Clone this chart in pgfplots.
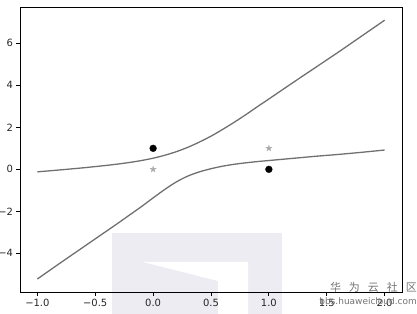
\documentclass[border=0pt]{standalone}
\usepackage{pgfplots}
\pgfplotsset{compat=1.18}
\usepackage{fontspec}
\setmainfont{DejaVu Sans}
\newfontfamily\cjk{Noto Sans CJK SC}
\definecolor{wm}{RGB}{236,236,242}
\definecolor{curve}{RGB}{112,112,112}
\definecolor{stargray}{RGB}{172,172,172}
\pgfdeclareplotmark{fstar}{%
  \pgfpathmoveto{\pgfpointpolar{90}{\pgfplotmarksize}}%
  \pgfpathlineto{\pgfpointpolar{126}{0.4\pgfplotmarksize}}%
  \pgfpathlineto{\pgfpointpolar{162}{\pgfplotmarksize}}%
  \pgfpathlineto{\pgfpointpolar{198}{0.4\pgfplotmarksize}}%
  \pgfpathlineto{\pgfpointpolar{234}{\pgfplotmarksize}}%
  \pgfpathlineto{\pgfpointpolar{270}{0.4\pgfplotmarksize}}%
  \pgfpathlineto{\pgfpointpolar{306}{\pgfplotmarksize}}%
  \pgfpathlineto{\pgfpointpolar{342}{0.4\pgfplotmarksize}}%
  \pgfpathlineto{\pgfpointpolar{18}{\pgfplotmarksize}}%
  \pgfpathlineto{\pgfpointpolar{54}{0.4\pgfplotmarksize}}%
  \pgfpathclose
  \pgfusepathqfillstroke}
\begin{document}
\begin{tikzpicture}[x=1bp,y=1bp]
\useasboundingbox (0,0) rectangle (417,314);
\fill[wm] (112,0) rectangle (282,81);
\fill[white] (143,52) -- (248,52) -- (248,0) -- (218,0) -- (218,33) -- cycle;
\begin{axis}[
  at={(20bp,22bp)}, anchor=south west,
  width=382bp, height=285bp, scale only axis,
  xmin=-1.15, xmax=2.15, ymin=-5.84, ymax=7.73,
  xtick={-1,-0.5,0,0.5,1,1.5,2},
  xticklabels={−1.0,−0.5,0.0,0.5,1.0,1.5,2.0},
  ytick={-4,-2,0,2,4,6},
  yticklabels={−4,−2,0,2,4,6},
  tick align=outside, tick pos=left,
  major tick length=3.5bp,
  axis line style={line width=0.8bp, black},
  every tick/.style={black, line width=0.8bp},
  tick label style={font=\fontsize{10}{12}\selectfont, text=black!85},
  /pgf/number format/assume math mode=true,
]
\addplot[curve, line width=1.3bp, smooth, no marks] coordinates {
 (-1.0,-0.12) (-0.8,-0.025) (-0.6,0.075) (-0.4,0.19) (-0.3,0.255) (-0.2,0.33)
 (-0.1,0.42) (0.0,0.53) (0.1,0.67) (0.2,0.84) (0.3,1.05) (0.4,1.3)
 (0.5,1.58) (0.6,1.9) (0.7,2.24) (0.8,2.6) (0.9,2.98) (1.0,3.35)
 (1.2,4.1) (1.4,4.84) (1.6,5.58) (1.8,6.34) (2.0,7.1)};
\addplot[curve, line width=1.3bp, smooth, no marks] coordinates {
 (-1.0,-5.22) (-0.8,-4.45) (-0.6,-3.69) (-0.4,-2.93) (-0.3,-2.55) (-0.2,-2.16)
 (-0.1,-1.77) (0.0,-1.36) (0.1,-0.96) (0.2,-0.6) (0.3,-0.32) (0.4,-0.12)
 (0.5,0.03) (0.6,0.15) (0.7,0.24) (0.8,0.31) (0.9,0.37) (1.0,0.42)
 (1.2,0.52) (1.4,0.62) (1.6,0.71) (1.8,0.81) (2.0,0.92)};
\addplot[only marks, mark=*, mark size=3.4bp, black] coordinates {(0,1) (1,0)};
\addplot[only marks, mark=fstar, mark size=3bp, stargray, mark options={fill=stargray, draw=stargray}] coordinates {(0,0) (1,1)};
\end{axis}
\node[anchor=base east, text=black!55, inner sep=0pt] at (417,23) {\cjk\fontsize{11}{12}\selectfont 华\hspace{8bp}为\hspace{8bp}云\hspace{8bp}社\hspace{8bp}区};
\node[anchor=base east, text=black!55, inner sep=0pt] at (417,10) {\fontsize{9}{10}\selectfont bbs.huaweicloud.com};
\end{tikzpicture}
\end{document}
